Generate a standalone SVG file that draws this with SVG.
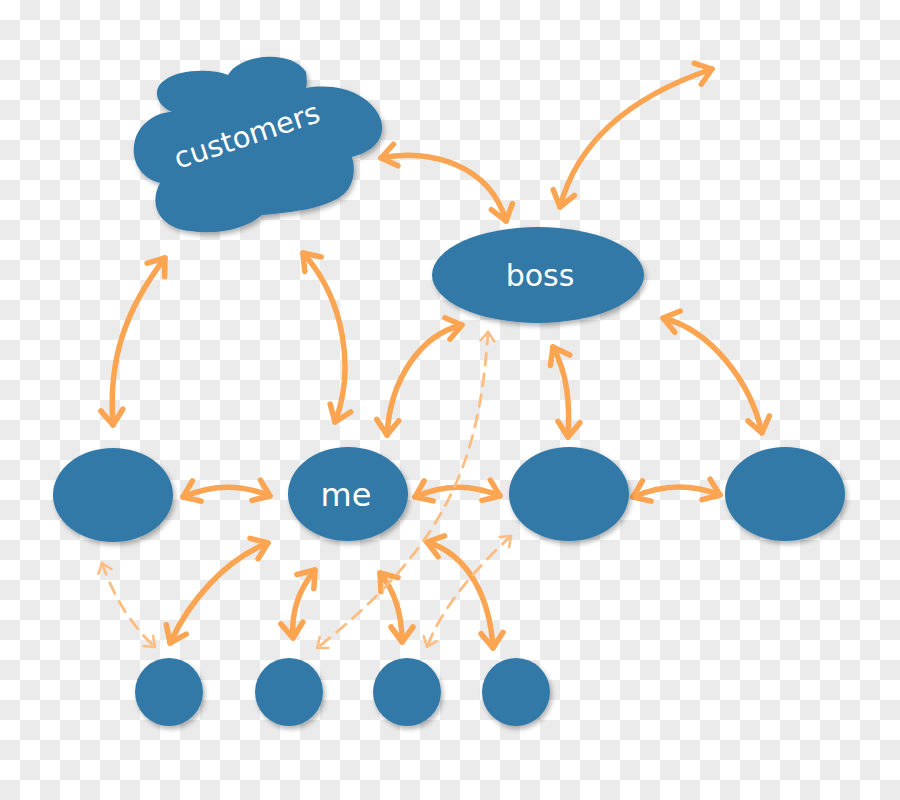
<svg xmlns="http://www.w3.org/2000/svg" width="900" height="800" viewBox="0 0 900 800">
  <defs>
    <pattern id="checker" width="40" height="40" patternUnits="userSpaceOnUse">
      <rect width="40" height="40" fill="#ffffff"/>
      <rect x="20" y="0" width="20" height="20" fill="#ebebeb"/>
      <rect x="0" y="20" width="20" height="20" fill="#ebebeb"/>
    </pattern>
    <filter id="shadow" x="-20%" y="-20%" width="140%" height="140%">
      <feDropShadow dx="2" dy="3" stdDeviation="2.5" flood-color="#000" flood-opacity="0.3"/>
    </filter>
    <marker id="head" viewBox="-22 -15 28 30" markerWidth="28" markerHeight="30" refX="0" refY="0" markerUnits="userSpaceOnUse" orient="auto-start-reverse">
      <path d="M -15,-11 L 0,0 L -15,11" fill="none" stroke="#fba552" stroke-width="5.5" stroke-linecap="round" stroke-linejoin="round"/>
    </marker>
    <marker id="dhead" viewBox="-14 -10 18 20" markerWidth="18" markerHeight="20" refX="0" refY="0" markerUnits="userSpaceOnUse" orient="auto-start-reverse">
      <path d="M -9,-7 L 0,0 L -9,7" fill="none" stroke="#fcbd80" stroke-width="2.5" stroke-linecap="round" stroke-linejoin="round"/>
    </marker>
  </defs>
  <style>
    .node { fill: #3179a8; filter: url(#shadow); }
    .label { fill: #ffffff; font-family: "DejaVu Sans", Verdana, sans-serif; text-anchor: middle; }
    .arrow { fill: none; stroke: #fba552; stroke-width: 5.5; stroke-linecap: round; marker-start: url(#head); marker-end: url(#head); }
    .dashed { fill: none; stroke: #fcbd80; stroke-width: 2.8; stroke-linecap: round; stroke-dasharray: 12 9; marker-start: url(#dhead); marker-end: url(#dhead); }
  </style>
  <rect width="900" height="800" fill="url(#checker)"/>

  <g id="connectors">
    <path class="arrow" d="M381,158 C430,148 490,165 506,221"/>
    <path class="arrow" d="M560,207 C575,150 620,100 712,69"/>
    <path class="arrow" d="M165,258 C125,310 108,360 113,425"/>
    <path class="arrow" d="M303,253 C345,300 355,370 335,422"/>
    <path class="arrow" d="M462,325 C420,335 390,380 387,435"/>
    <path class="arrow" d="M553,347 C568,375 570,405 568,437"/>
    <path class="arrow" d="M663,318 C710,330 750,380 762,433"/>
    <path class="arrow" d="M183,497 Q227,478 270,496"/>
    <path class="arrow" d="M415,497 Q457,478 500,496"/>
    <path class="arrow" d="M633,497 Q677,478 720,495"/>
    <path class="arrow" d="M268,543 C225,560 190,600 170,643"/>
    <path class="arrow" d="M315,570 Q290,600 293,638"/>
    <path class="arrow" d="M380,573 Q402,600 402,642"/>
    <path class="arrow" d="M427,542 C470,555 490,600 493,648"/>
    <path class="dashed" d="M488,332 C480,450 455,540 317,648"/>
    <path class="dashed" d="M511,536 C485,560 445,600 427,647"/>
    <path class="dashed" d="M102,563 Q120,615 155,647"/>
  </g>

  <g id="customers">
    <path class="node" d="M172,112 C155,105 152,88 165,80 C178,70 210,68 228,75 C238,55 290,48 306,72 C307,78 307,84 306,88 C340,82 372,95 381,120 C386,140 372,152 352,157 C356,170 354,188 340,197 C325,207 300,212 262,215 C245,230 215,235 190,231 C160,228 148,205 160,183 C140,178 130,160 135,140 C140,122 158,112 172,112 Z"/>
    <text class="label" x="250" y="145" font-size="29" transform="rotate(-18.5 250 145)">customers</text>
  </g>

  <g id="boss">
    <ellipse class="node" cx="538" cy="275" rx="106" ry="48"/>
    <text class="label" x="540" y="286" font-size="30">boss</text>
  </g>

  <g id="left">
    <ellipse class="node" cx="113" cy="495" rx="60" ry="47"/>
  </g>

  <g id="me">
    <ellipse class="node" cx="348" cy="494" rx="60" ry="47"/>
    <text class="label" x="346" y="506" font-size="32">me</text>
  </g>

  <g id="peer3">
    <ellipse class="node" cx="569" cy="494" rx="60" ry="47"/>
  </g>

  <g id="peer4">
    <ellipse class="node" cx="785" cy="494" rx="60" ry="47"/>
  </g>

  <g id="sub1"><circle class="node" cx="169" cy="692" r="34"/></g>
  <g id="sub2"><circle class="node" cx="289" cy="692" r="34"/></g>
  <g id="sub3"><circle class="node" cx="407" cy="692" r="34"/></g>
  <g id="sub4"><circle class="node" cx="516" cy="692" r="34"/></g>
</svg>
